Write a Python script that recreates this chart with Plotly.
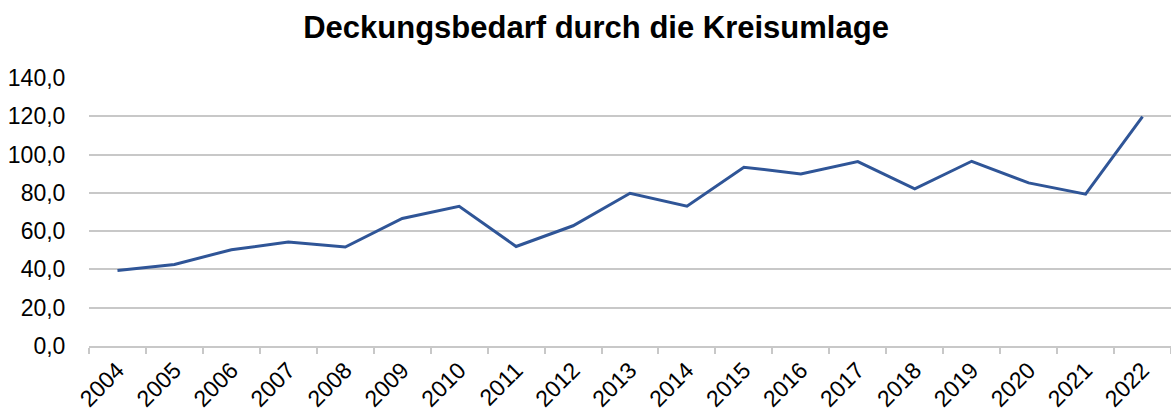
import plotly.graph_objects as go

years = [str(y) for y in range(2004, 2023)]
values = [39.5, 42.6, 50.3, 54.3, 51.7, 66.6, 73.0, 52.0, 62.8, 79.8, 73.0,
          93.4, 89.9, 96.3, 82.1, 96.5, 85.2, 79.3, 119.8]
y_ticks = [0, 20, 40, 60, 80, 100, 120, 140]
title = "Deckungsbedarf durch die Kreisumlage"

FONT = "Liberation Sans, Arial, sans-serif"

fig = go.Figure()
fig.add_trace(go.Scatter(x=years, y=values, mode="lines",
                         line=dict(color="#2F5597", width=3), showlegend=False))

fig.update_layout(
    width=1171, height=417,
    margin=dict(l=89, r=0, t=78, b=71),
    paper_bgcolor="white", plot_bgcolor="white",
    separators=",.",
    font=dict(family=FONT, size=23, color="#000000"),
    title=dict(text="<b>" + title + "</b>", x=0.509, xanchor="center",
               y=0.935, yanchor="middle",
               font=dict(size=31, family=FONT, color="#000000")),
)
fig.update_xaxes(type="category", range=[-0.5, 18.5], tickangle=-45,
                 showgrid=False, automargin=False,
                 showline=True, linecolor="#C8C8C8", linewidth=1.5,
                 ticks="outside", tickson="boundaries", ticklen=6,
                 tickcolor="#C8C8C8", tickwidth=1.5,
                 tickfont=dict(size=23))
fig.update_yaxes(range=[0, 140], tickvals=y_ticks, tickformat=".1f",
                 showgrid=True, gridcolor="#C8C8C8", gridwidth=1.5,
                 zeroline=False, showline=False, automargin=False,
                 ticks="outside", ticklen=18, tickcolor="rgba(0,0,0,0)",
                 tickfont=dict(size=23))

fig.write_html("out.html", config={"displayModeBar": False},
               post_script="document.body.style.margin='0';document.body.style.overflow='hidden';")
